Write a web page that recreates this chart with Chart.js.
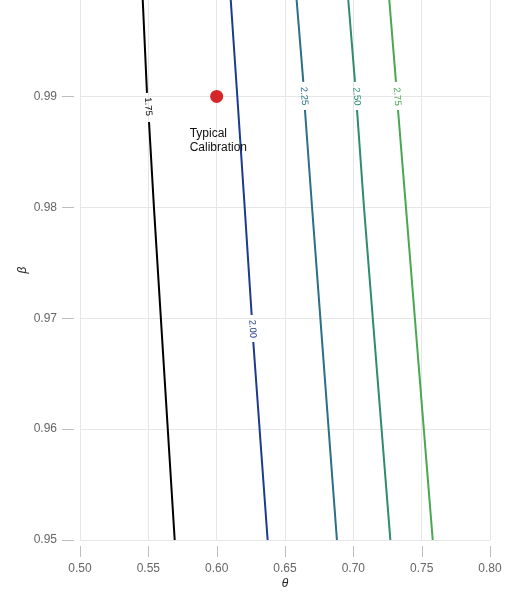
<!DOCTYPE html>
<html>
<head>
<meta charset="utf-8">
<script src="https://cdn.jsdelivr.net/npm/chart.js@4"></script>
<style>
  html, body { margin: 0; padding: 0; background: #ffffff; }
  canvas { display: block; }
</style>
</head>
<body>
<canvas id="chart" width="508" height="593"></canvas>
<script>
// Contour levels of the objective over (theta, beta)
const levels = ['1.75', '2.00', '2.25', '2.50', '2.75'];

// Contour paths; null marks the break left for the inline label
const theta175 = [0.5459, 0.5490, null, 0.5505, 0.5541, 0.5693];
const beta175  = [0.9987, 0.99032, null, 0.98770, 0.98, 0.95];

const theta200 = [0.6103, 0.6151, 0.6205, 0.6256, null, 0.6268, 0.6373];
const beta200  = [0.9987, 0.99, 0.98, 0.97029, null, 0.96786, 0.95];

const theta225 = [0.6585, 0.6634, null, 0.6646, 0.6698, 0.6880];
const beta225  = [0.9987, 0.99131, null, 0.98878, 0.98, 0.95];

const theta250 = [0.6963, 0.7012, null, 0.7027, 0.7078, 0.7271];
const beta250  = [0.9987, 0.99131, null, 0.98878, 0.98, 0.95];

const theta275 = [0.7263, 0.7312, null, 0.7327, 0.7385, 0.7581];
const beta275  = [0.9987, 0.99131, null, 0.98878, 0.98, 0.95];

// Where each level label sits on its contour
const labelTheta = [0.5498, 0.6262, 0.6639, 0.7024, 0.7320];
const labelBeta  = [0.98908, 0.96903, 0.99004, 0.99, 0.99];

// Typical calibration point
const calibTheta = [0.60];
const calibBeta  = [0.99];
const calibText  = ['Typical', 'Calibration'];

// Axis ticks and ranges
const xTicks = [0.50, 0.55, 0.60, 0.65, 0.70, 0.75, 0.80];
const yTicks = [0.95, 0.96, 0.97, 0.98, 0.99];
const xRange = [0.50, 0.80];
const yRange = [0.95, 0.9987];

const contourTheta = [theta175, theta200, theta225, theta250, theta275];
const contourBeta  = [beta175, beta200, beta225, beta250, beta275];
const contourColors = ['#000000', '#1c3b8e', '#2b6f88', '#2f8c6e', '#4aa752'];

const FONT = '"Liberation Sans", Arial, Helvetica, sans-serif';

function toPoints(xs, ys) {
  return xs.map((x, i) => (x === null || ys[i] === null)
    ? { x: NaN, y: NaN }
    : { x: x, y: ys[i] });
}

const datasets = levels.map((lv, i) => ({
  label: lv,
  data: toPoints(contourTheta[i], contourBeta[i]),
  showLine: true,
  spanGaps: false,
  borderColor: contourColors[i],
  backgroundColor: contourColors[i],
  borderWidth: 2,
  pointRadius: 0,
  pointHoverRadius: 0,
  fill: false,
  tension: 0
}));

datasets.push({
  label: 'calibration',
  data: toPoints(calibTheta, calibBeta),
  showLine: false,
  pointRadius: 6.5,
  pointBackgroundColor: '#d62728',
  pointBorderWidth: 0,
  pointBorderColor: '#d62728'
});

// Outer tick marks set slightly apart from the plot area
const tickMarks = {
  id: 'tickMarks',
  afterDraw(chart) {
    const { ctx, scales: { x, y } } = chart;
    ctx.save();
    ctx.strokeStyle = '#bdbdbd';
    ctx.lineWidth = 1;
    yTicks.forEach(v => {
      const py = Math.round(y.getPixelForValue(v)) + 0.5;
      ctx.beginPath();
      ctx.moveTo(62, py);
      ctx.lineTo(74, py);
      ctx.stroke();
    });
    xTicks.forEach(v => {
      const px = Math.round(x.getPixelForValue(v)) + 0.5;
      ctx.beginPath();
      ctx.moveTo(px, 546);
      ctx.lineTo(px, 557);
      ctx.stroke();
    });
    ctx.restore();
  }
};

// Inline contour labels and the calibration note
const annotations = {
  id: 'annotations',
  afterDatasetsDraw(chart) {
    const { ctx, scales: { x, y } } = chart;
    ctx.save();
    levels.forEach((lv, i) => {
      const xs = contourTheta[i], ys = contourBeta[i];
      const n = xs.length - 1;
      const dx = x.getPixelForValue(xs[n]) - x.getPixelForValue(xs[0]);
      const dy = y.getPixelForValue(ys[n]) - y.getPixelForValue(ys[0]);
      const angle = Math.atan2(dy, dx);
      const px = x.getPixelForValue(labelTheta[i]);
      const py = y.getPixelForValue(labelBeta[i]);
      ctx.save();
      ctx.translate(px, py);
      ctx.rotate(angle);
      ctx.font = '9.5px ' + FONT;
      ctx.fillStyle = contourColors[i];
      ctx.textAlign = 'center';
      ctx.textBaseline = 'middle';
      ctx.fillText(lv, 0, 0);
      ctx.restore();
    });

    ctx.font = '12px ' + FONT;
    ctx.fillStyle = '#111111';
    ctx.textAlign = 'left';
    ctx.textBaseline = 'middle';
    const tx = x.getPixelForValue(calibTheta[0]) - 27;
    const ty = y.getPixelForValue(calibBeta[0]) + 37.5;
    calibText.forEach((t, k) => ctx.fillText(t, tx, ty + k * 13.5));
    ctx.restore();
  }
};

function zeroPadding(scale) {
  scale.paddingTop = 0;
  scale.paddingBottom = 0;
  scale.paddingLeft = 0;
  scale.paddingRight = 0;
}

new Chart(document.getElementById('chart'), {
  type: 'scatter',
  data: { datasets },
  options: {
    responsive: false,
    devicePixelRatio: 1,
    animation: false,
    layout: { autoPadding: false, padding: { top: 0, right: 18, bottom: 0, left: 0 } },
    plugins: {
      legend: { display: false },
      tooltip: { enabled: false }
    },
    scales: {
      x: {
        type: 'linear',
        min: xRange[0],
        max: xRange[1],
        afterBuildTicks(scale) { scale.ticks = xTicks.map(v => ({ value: v })); },
        afterFit(scale) { scale.height = 53; zeroPadding(scale); },
        border: { display: false },
        grid: { color: '#e6e6e6', lineWidth: 1, drawTicks: false },
        ticks: {
          padding: 21,
          color: '#666666',
          font: { family: FONT, size: 12 },
          callback: v => Number(v).toFixed(2)
        },
        title: {
          display: true,
          text: 'θ',
          color: '#222222',
          font: { family: FONT, size: 12, style: 'italic' },
          padding: { top: 0, bottom: 2 }
        }
      },
      y: {
        type: 'linear',
        min: yRange[0],
        max: yRange[1],
        afterBuildTicks(scale) { scale.ticks = yTicks.map(v => ({ value: v })); },
        afterFit(scale) { scale.width = 80; zeroPadding(scale); },
        border: { display: false },
        grid: { color: '#e6e6e6', lineWidth: 1, drawTicks: false },
        ticks: {
          padding: 23,
          color: '#666666',
          font: { family: FONT, size: 12 },
          callback: v => Number(v).toFixed(2)
        },
        title: {
          display: true,
          text: 'β',
          color: '#222222',
          font: { family: FONT, size: 12, style: 'italic' },
          padding: { top: 15, bottom: 0 }
        }
      }
    }
  },
  plugins: [tickMarks, annotations]
});
</script>
</body>
</html>
